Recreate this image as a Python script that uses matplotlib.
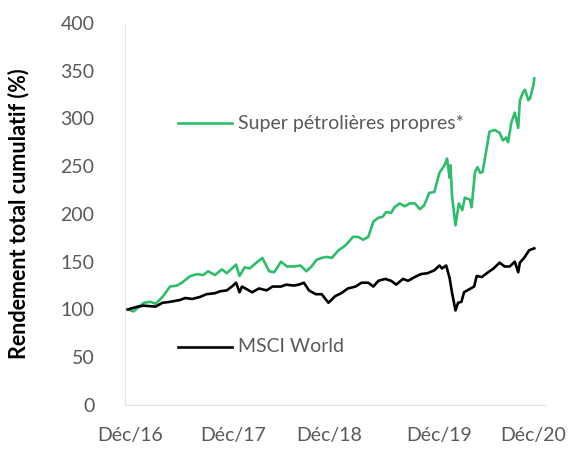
import matplotlib
matplotlib.use("Agg")
import matplotlib.pyplot as plt

# Months since Dec 2016
mois_super = [0, 0.7, 1.9, 2.7, 3.3, 4.1, 5.0, 5.8, 6.4, 7.4, 8.2, 8.9, 9.5, 10.3, 11.1, 11.7,
              12.8, 13.2, 13.8, 14.4, 15.2, 15.9, 16.7, 17.3, 18.1, 18.8, 19.6, 20.4, 21.1, 21.7,
              22.3, 22.9, 23.5, 24.1, 24.9, 25.7, 26.6, 27.2, 27.8, 28.4, 29.0, 29.6, 30.1, 30.5,
              31.1, 31.5, 32.1, 32.7, 33.3, 33.9, 34.5, 35.0, 35.6, 36.2, 36.8, 37.4, 37.7, 38.0,
              38.1, 38.3, 38.7, 39.1, 39.5, 39.8, 40.4, 40.6, 41.0, 41.3, 41.6, 41.9, 42.4, 42.7,
              43.3, 43.9, 44.3, 44.7, 44.9, 45.3, 45.7, 46.1, 46.3, 46.7, 46.9, 47.3, 47.5, 47.9, 48.0]
super_petrolieres = [100, 98, 107, 108, 106, 113, 124, 125, 128, 135, 137, 136, 140, 136, 142, 138,
                     147, 135, 144, 143, 149, 154, 140, 139, 150, 145, 145, 146, 140, 145,
                     152, 154, 155, 154, 162, 167, 176, 176, 173, 176, 192, 196, 197, 202,
                     201, 207, 211, 208, 211, 211, 205, 209, 222, 223, 243, 251, 258, 238,
                     251, 218, 188, 211, 204, 217, 215, 207, 244, 249, 243, 244, 270, 286,
                     288, 285, 277, 280, 275, 296, 306, 290, 319, 328, 330, 319, 321, 335, 342]

mois_msci = [0, 1.2, 1.9, 3.3, 4.1, 5.0, 6.2, 6.8, 7.6, 8.5, 9.3, 10.3, 10.9, 11.7, 12.3, 12.8,
             13.2, 13.5, 14.1, 14.7, 15.5, 16.4, 17.1, 18.1, 18.7, 19.6, 20.2, 20.8, 21.4, 22.2,
             22.9, 23.7, 24.5, 25.2, 26.0, 26.9, 27.6, 28.4, 29.0, 29.6, 30.4, 31.1, 31.7, 32.5,
             33.1, 33.9, 34.6, 35.4, 36.2, 36.8, 37.1, 37.6, 38.0, 38.3, 38.7, 39.0, 39.4, 39.7,
             40.3, 40.9, 41.2, 41.8, 42.4, 43.2, 43.9, 44.5, 45.1, 45.7, 46.1, 46.3, 46.8, 47.4, 48.0]
msci_world = [100, 103, 104, 103, 107, 108, 110, 112, 111, 113, 116, 117, 119, 120, 124, 128,
              118, 124, 121, 118, 122, 120, 124, 124, 126, 125, 126, 128, 120, 116,
              116, 107, 114, 117, 122, 124, 128, 128, 124, 130, 132, 130, 126, 132,
              130, 134, 137, 138, 141, 146, 143, 146, 133, 117, 99, 107, 108, 118,
              121, 124, 135, 134, 138, 143, 149, 145, 145, 150, 139, 149, 154, 162, 164]

tick_pos = [0.3, 12.5, 23.8, 36.8, 47.9]
tick_labels = ["Déc/16", "Déc/17", "Déc/18", "Déc/19", "Déc/20"]
y_ticks = [0, 50, 100, 150, 200, 250, 300, 350, 400]

plt.rcParams['font.family'] = ['Lato', 'DejaVu Sans']

vert = "#2EBD6B"
gris = "#595959"

fig = plt.figure(figsize=(5.74, 4.49), dpi=100)
ax = fig.add_axes([0.218, 0.098, 0.732, 0.851])

ax.plot(mois_super, super_petrolieres, color=vert, lw=1.9)
ax.plot(mois_msci, msci_world, color="black", lw=1.9)

ax.set_xlim(-0.3, 49.3)
ax.set_ylim(0, 400)
ax.set_yticks(y_ticks)
ax.set_xticks(tick_pos)
ax.set_xticklabels(tick_labels)
ax.tick_params(length=0, labelsize=14, colors=gris, pad=16)
ax.tick_params(axis="y", pad=22)

for s in ["top", "right"]:
    ax.spines[s].set_visible(False)
for s in ["left", "bottom"]:
    ax.spines[s].set_color("#e3e3e3")

ax.set_ylabel("Rendement total cumulatif (%)", fontsize=15.5, fontweight="bold")
ax.yaxis.set_label_coords(-0.228, 0.50)

# inline legend
ax.plot([0.126, 0.255], [0.738, 0.738], color=vert, lw=1.9, transform=ax.transAxes)
ax.text(0.269, 0.738, "Super pétrolières propres*", color=gris, fontsize=14,
        va="center", transform=ax.transAxes)
ax.plot([0.126, 0.255], [0.152, 0.152], color="black", lw=1.9, transform=ax.transAxes)
ax.text(0.269, 0.152, "MSCI World", color=gris, fontsize=14,
        va="center", transform=ax.transAxes)

fig.savefig("out.png", dpi=100)
